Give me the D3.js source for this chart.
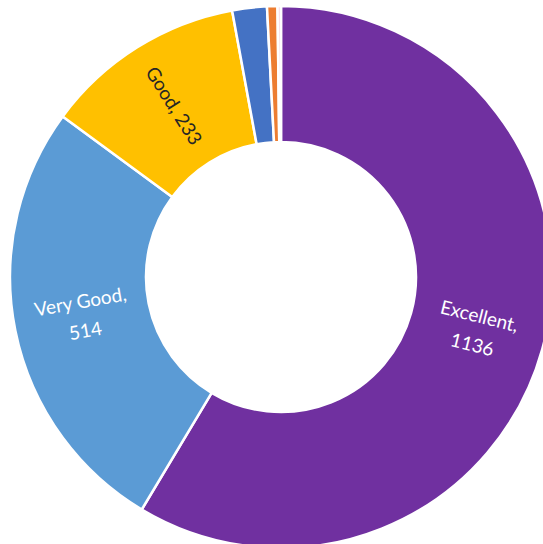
<!DOCTYPE html>
<html><head><meta charset="utf-8">
<script src="https://cdn.jsdelivr.net/npm/d3@7"></script>
<style>html,body{margin:0;padding:0;background:#fff;overflow:hidden}</style>
</head><body>
<svg id="c" width="543" height="544"></svg>
<script>
const categories = ["Excellent", "Very Good", "Good", "Fair", "Poor", "Other"];
const values = [1136, 514, 233, 40, 12, 4];
const colors = ["#7030A0", "#5B9BD5", "#FFC000", "#4472C4", "#ED7D31", "#F8D7E0"];
const labelShown = [true, true, true, false, false, false];
const labelColors = ["#ffffff", "#ffffff", "#262626", "#000", "#000", "#000"];
const labelRotation = [14, -10, 58, 0, 0, 0];

const W = 543, H = 544, cx = 281, cy = 277, rOuter = 271, rInner = 135;
const svg = d3.select("#c");
const g = svg.append("g").attr("transform", `translate(${cx},${cy})`);
const data = categories.map((c, i) => ({cat: c, val: values[i], i}));
const pie = d3.pie().value(d => d.val).sort(null);
const arc = d3.arc().innerRadius(rInner).outerRadius(rOuter);
const labelArc = d3.arc().innerRadius(202).outerRadius(202);
const arcs = pie(data);
g.selectAll("path").data(arcs).join("path")
  .attr("d", arc)
  .attr("fill", d => colors[d.data.i])
  .attr("stroke", "#fff").attr("stroke-width", 2.5).attr("stroke-linejoin", "round");

const lab = g.selectAll("g.lab").data(arcs.filter(d => labelShown[d.data.i])).join("g")
  .attr("class", "lab")
  .attr("transform", d => { const [x, y] = labelArc.centroid(d); return `translate(${x},${y}) rotate(${labelRotation[d.data.i]})`; });
lab.each(function(d) {
  const t = d3.select(this).append("text")
    .attr("text-anchor", "middle")
    .attr("font-family", "Lato, 'Open Sans', sans-serif")
    .attr("font-size", 19)
    .attr("fill", labelColors[d.data.i]);
  if (d.data.i === 2) {
    t.append("tspan").attr("x", 0).attr("dy", "0.35em").text(`${d.data.cat}, ${d.data.val}`);
  } else {
    t.append("tspan").attr("x", 0).attr("dy", "-0.45em").text(`${d.data.cat},`);
    t.append("tspan").attr("x", 0).attr("dy", "1.55em").text(d.data.val);
  }
});
</script>
</body></html>
